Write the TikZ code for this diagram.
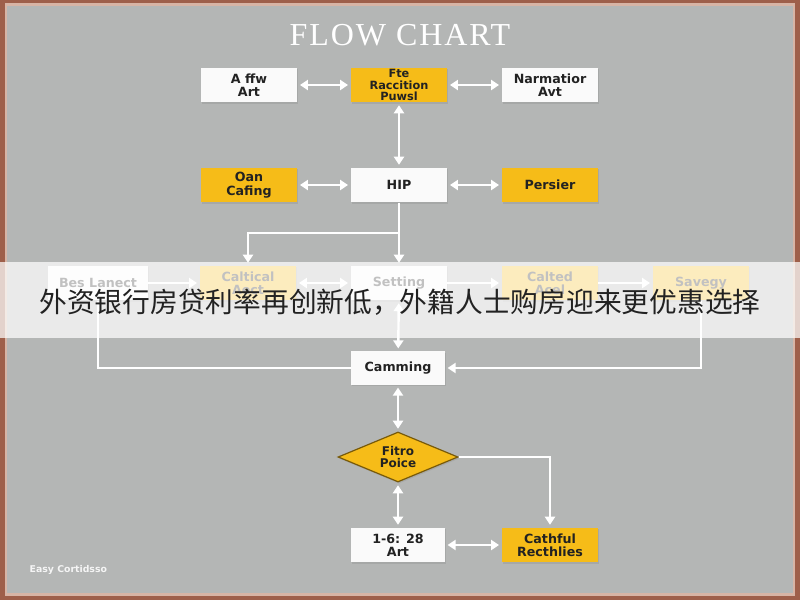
\documentclass[tikz,border=0pt]{standalone}
\usepackage{fontspec}
\setmainfont{DejaVu Sans}
\newfontfamily\cjk{Noto Sans CJK SC}
\newfontfamily\titlefont[LetterSpace=6]{Liberation Serif}
\usetikzlibrary{arrows.meta,shapes.geometric,shadows}

\definecolor{bg}{RGB}{180,182,181}
\definecolor{framec}{RGB}{158,95,74}
\definecolor{framelight}{RGB}{215,180,165}
\definecolor{boxyellow}{RGB}{246,188,24}
\definecolor{boxwhite}{RGB}{250,250,250}
\definecolor{ink}{RGB}{34,34,34}
\definecolor{dborder}{RGB}{120,90,10}

\begin{document}
\begin{tikzpicture}[x=0.75pt,y=-0.75pt,
  box/.style={rectangle, minimum width=72pt, minimum height=26pt, inner sep=1pt, align=center,
    font=\bfseries\fontsize{9.5}{10}\selectfont, text=ink,
    drop shadow={shadow xshift=0.8pt, shadow yshift=-1.2pt, opacity=0.25}},
  wbox/.style={box, fill=boxwhite},
  ybox/.style={box, fill=boxyellow},
  link/.style={draw=white, line width=1.8pt},
  arr/.style={link, -{Triangle[length=6pt,width=7.5pt]}, shorten >=2pt},
  darr/.style={link, {Triangle[length=6pt,width=7.5pt]}-{Triangle[length=6pt,width=7.5pt]}, shorten >=2pt, shorten <=2pt},
  dia/.style={diamond, aspect=2.4, minimum width=90pt, minimum height=37.5pt, inner sep=0pt,
    fill=boxyellow, draw=dborder, line width=0.9pt, align=center,
    font=\bfseries\fontsize{9}{9.5}\selectfont, text=ink,
    drop shadow={shadow xshift=0.8pt, shadow yshift=-1.2pt, opacity=0.25}}
]
\useasboundingbox (0,0) rectangle (800,600);
% frame and background
\fill[framec] (0,0) rectangle (800,600);
\fill[framelight] (5,3) rectangle (795,596);
\fill[bg] (7,6) rectangle (793,593);

% title
\node[font=\titlefont\fontsize{24}{24}\selectfont, text=white] (title) at (400,35) {FLOW CHART};

% row 1
\node[wbox] (a1) at (249,85) {A ffw\\Art};
\node[ybox, font=\bfseries\fontsize{8.5}{8.8}\selectfont] (a2) at (399,85) {Fte\\Raccition\\Puwsl};
\node[wbox] (a3) at (550,85) {Narmatior\\Avt};
% row 2
\node[ybox] (b1) at (249,185) {Oan\\Cafing};
\node[wbox] (b2) at (399,185) {HIP};
\node[ybox] (b3) at (550,185) {Persier};
% row 3
\node[wbox, minimum width=75pt] (c1) at (98,283) {Bes Lanect};
\node[ybox] (c2) at (248,283) {Caltical\\Aect};
\node[wbox] (c3) at (399,283) {Setting};
\node[ybox] (c4) at (550,283) {Calted\\Acel};
\node[ybox] (c5) at (701,283) {Savegy};
% lower part
\node[wbox, minimum width=70pt, minimum height=25pt] (d1) at (398,368) {Camming};
\node[dia] (e1) at (398,457) {Fitro\\Poice};
\node[wbox, minimum width=70pt] (f1) at (398,545) {1-6: 28\\Art};
\node[ybox] (f2) at (550,545) {Cathful\\Recthlies};

\coordinate (j1) at (399,233);

% connectors
\draw[darr] (a1) -- (a2);
\draw[darr] (a2) -- (a3);
\draw[darr] (a2) -- (b2);
\draw[darr] (b1) -- (b2);
\draw[darr] (b2) -- (b3);
\draw[arr] (b2) -- (c3);
\draw[arr] (j1) -| (c2);
\draw[arr] (c1) -- (c2);
\draw[darr] (c2) -- (c3);
\draw[arr] (c3) -- (c4);
\draw[arr] (c4) -- (c5);
\draw[link] (c1.south) |- (d1.west);
\draw[arr] (c5.south) |- (d1.east);
\draw[darr] (c3) -- (d1);
\draw[darr] (d1) -- (e1);
\draw[darr] (e1) -- (f1);
\draw[arr] (e1.east) -| (f2.north);
\draw[darr] (f1) -- (f2);

% footer
\node[font=\bfseries\fontsize{7}{7}\selectfont, text=white!92!gray, anchor=west] (foot) at (25,570) {Easy Cortidsso};

% banner
\fill[white, opacity=0.72] (0,262) rectangle (800,338);
\node[font=\cjk\fontsize{20.8}{20.8}\selectfont, text=ink] (banner) at (400,302) {外资银行房贷利率再创新低，外籍人士购房迎来更优惠选择};
\end{tikzpicture}
\end{document}
